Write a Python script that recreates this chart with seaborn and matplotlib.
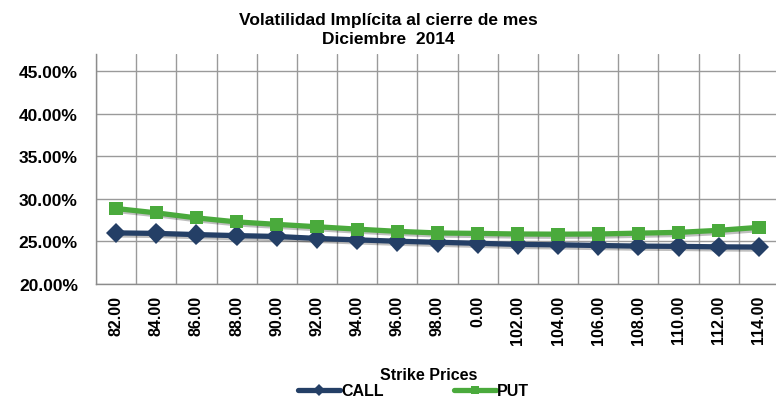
import numpy as np
import pandas as pd
import matplotlib
matplotlib.use('Agg')
import matplotlib.pyplot as plt
import matplotlib.patheffects as pe
from matplotlib.ticker import FixedLocator, PercentFormatter
import seaborn as sns

# data
strikes = ['82.00', '84.00', '86.00', '88.00', '90.00', '92.00', '94.00', '96.00', '98.00',
           '0.00', '102.00', '104.00', '106.00', '108.00', '110.00', '112.00', '114.00']
call_vol = [0.2600, 0.2594, 0.2580, 0.2568, 0.2558, 0.2535, 0.2518, 0.2502, 0.2490,
            0.2478, 0.2465, 0.2460, 0.2452, 0.2445, 0.2442, 0.2436, 0.2434]
put_vol = [0.2886, 0.2835, 0.2776, 0.2729, 0.2700, 0.2672, 0.2644, 0.2618, 0.2599,
           0.2594, 0.2587, 0.2585, 0.2587, 0.2597, 0.2606, 0.2630, 0.2665]
series = ['CALL', 'PUT']
colors = {'CALL': '#243F66', 'PUT': '#4AAA3C'}
markers = {'CALL': 'D', 'PUT': 's'}

df = pd.DataFrame({
    'strike': strikes * 2,
    'vol': call_vol + put_vol,
    'serie': ['CALL'] * len(strikes) + ['PUT'] * len(strikes),
})

sns.set_style('white')
plt.rcParams['font.family'] = ['Liberation Sans', 'DejaVu Sans']
plt.rcParams['font.weight'] = 'bold'
plt.rcParams['text.color'] = 'black'
plt.rcParams['xtick.labelcolor'] = 'black'
plt.rcParams['ytick.labelcolor'] = 'black'

fig = plt.figure(figsize=(7.76, 4.02), dpi=100)
ax = fig.add_axes([96 / 776, (402 - 285) / 402, (779 - 96) / 776, (285 - 55) / 402])

sns.lineplot(data=df, x='strike', y='vol', hue='serie', style='serie',
             palette=colors, markers=markers, dashes=False, sort=False,
             linewidth=3.8, markersize=9.5, markeredgewidth=0, ax=ax, legend=False)

shadow = [pe.SimpleLineShadow(offset=(1.5, -1.5), alpha=0.25), pe.Normal()]
for ln in ax.lines:
    ln.set_path_effects(shadow)
ax.lines[0].set_markersize(10.5)

n = len(strikes)
ax.set_xlim(-0.5, n - 0.5)
ax.set_ylim(0.20, 0.47)
ax.yaxis.set_major_locator(FixedLocator([0.20, 0.25, 0.30, 0.35, 0.40, 0.45]))
ax.yaxis.set_major_formatter(PercentFormatter(1.0, decimals=2))
ax.set_xticks(range(n))
ax.set_xticklabels(strikes, rotation=90, fontsize=11.5, fontweight='bold')
ax.set_xticks(np.arange(-0.5, n, 1), minor=True)
ax.tick_params(axis='x', which='major', length=0, pad=8)
ax.tick_params(axis='x', which='minor', length=5, color='#8c8c8c', width=1, direction='out')
ax.tick_params(axis='y', length=5, color='#8c8c8c', width=1, direction='out',
               labelsize=12.5, pad=8)
for lab in ax.get_yticklabels():
    lab.set_fontweight('bold')

ax.grid(True, axis='y', which='major', color='#9a9a9a', linewidth=1)
ax.grid(True, axis='x', which='minor', color='#9a9a9a', linewidth=1)
ax.grid(False, axis='x', which='major')
ax.set_axisbelow(True)

for side in ['top', 'right']:
    ax.spines[side].set_visible(False)
for side in ['left', 'bottom']:
    ax.spines[side].set_color('#8c8c8c')
    ax.spines[side].set_linewidth(1)

ax.set_xlabel('')
ax.set_ylabel('')
fig.text(0.553, 0.067, 'Strike Prices', ha='center', va='center', fontsize=11.5, fontweight='bold')
fig.text(0.5, 0.925, 'Volatilidad Implícita al cierre de mes\nDiciembre  2014',
         ha='center', va='center', fontsize=12.5, fontweight='bold', linespacing=1.3)

handles = [plt.Line2D([], [], color=colors[s], marker=markers[s], linewidth=3.8,
                      markersize=6, markeredgewidth=0) for s in series]
fig.legend(handles, series, loc='center', bbox_to_anchor=(0.533, 0.025), ncol=2,
           frameon=False, handlelength=2.6, handletextpad=0.1, columnspacing=4.4,
           prop={'weight': 'bold', 'size': 11.5})

fig.savefig('out.png', dpi=100)
